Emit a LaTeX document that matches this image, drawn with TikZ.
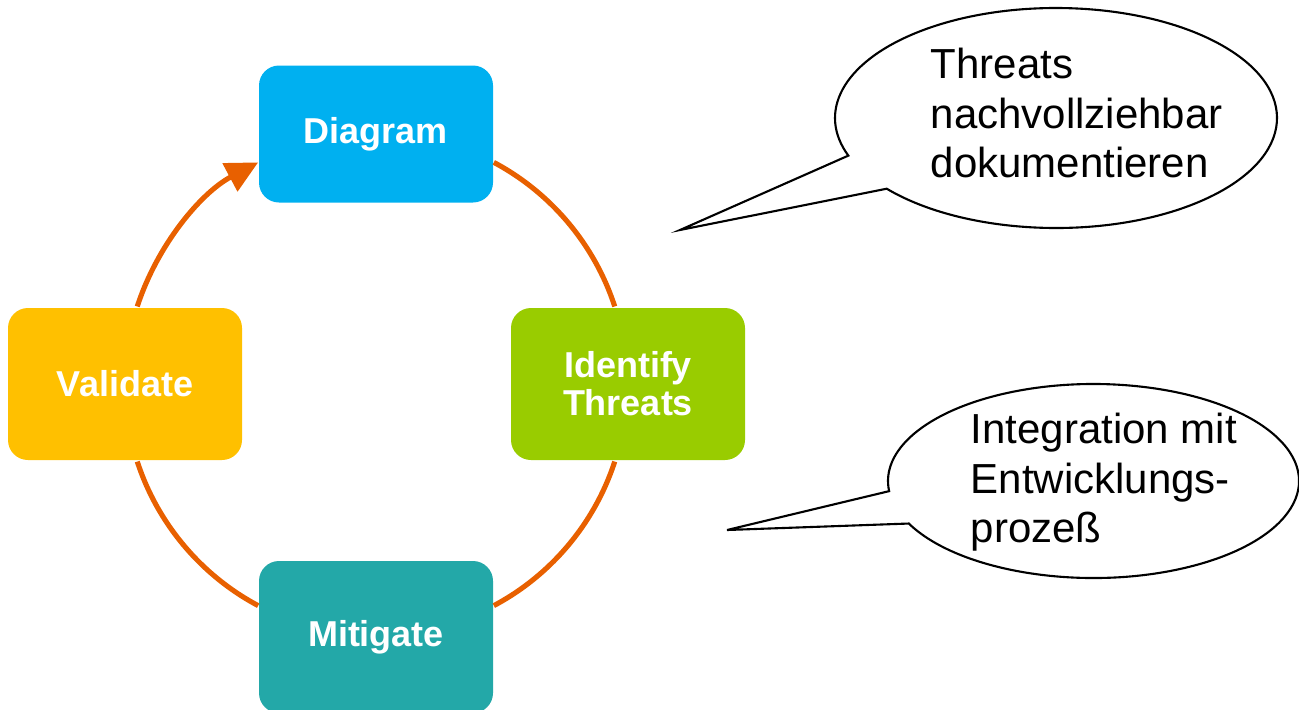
\documentclass[tikz,border=0pt]{standalone}
\usepackage{fontspec}
\setmainfont{Liberation Sans}
\usepackage{xcolor}
\definecolor{skyblue}{RGB}{0,176,240}
\definecolor{limegreen}{RGB}{153,204,0}
\definecolor{teal}{RGB}{35,168,168}
\definecolor{amber}{RGB}{255,192,0}
\definecolor{pumpkin}{RGB}{232,96,0}
\usepackage{tikz}
\usetikzlibrary{calc,arrows.meta}
\tikzset{
    stepbox/.style={rounded corners=0.2cm, minimum width=2.34cm, minimum height=1.52cm,
        inner sep=0pt, align=center, text=white,
        font=\fontsize{10.24}{10.8}\selectfont\bfseries},
    flow/.style={draw=pumpkin, line width=1.45pt, bend left=22, looseness=0.88},
    bubble/.style={draw=black, line width=0.6pt, fill=white},
    bubbletext/.style={anchor=north west, inner sep=0pt, align=left,
        font=\fontsize{11.95}{14.2}\selectfont}
}

\begin{document}
\begin{tikzpicture}
                \useasboundingbox (0,0) rectangle (12.99,7.09);
                \coordinate (ring) at (3.76,3.25);
                \foreach \ang/\nm in {62/p1, 18/p2, -18/p3, -62/p4, -118/p5, -162/p6, 162/p7, 118/p8}
                    \coordinate (\nm) at ($(ring)+(\ang:2.51)$);

                \node [stepbox, fill=skyblue, minimum height=1.37cm] (diagram) at (3.76,5.75) {Diagram};
                \node [stepbox, fill=limegreen] (identify) at (6.28,3.25) {Identify\\Threats};
                \node [stepbox, fill=teal] (mitigate) at (3.76,0.72) {Mitigate};
                \node [stepbox, fill=amber] (validate) at (1.25,3.25) {Validate};

                \draw [flow] (p1) to (p2);
                \draw [flow] (p3) to (p4);
                \draw [flow] (p5) to (p6);
                \draw [flow, -{Triangle[length=0.32cm, width=0.31cm]}] (p7) to (p8);

                \coordinate (c1) at (10.56,5.91);
                \coordinate (tip1) at (6.80,4.79);
                \draw [bubble] (tip1) -- ($(c1)+(220:2.21 and 1.10)$)
                    arc [start angle=220, end angle=560, x radius=2.21, y radius=1.10] -- cycle;
                \node [bubbletext] (note1) at (9.30,6.62) {Threats\\nachvollziehbar\\dokumentieren};

                \coordinate (c2) at (10.935,2.28);
                \coordinate (tip2) at (7.27,1.79);
                \draw [bubble] (tip2) -- ($(c2)+(206:2.055 and 0.97)$)
                    arc [start angle=206, end angle=546, x radius=2.055, y radius=0.97] -- cycle;
                \node [bubbletext] (note2) at (9.70,2.97) {Integration mit\\Entwicklungs-\\prozeß};
            \end{tikzpicture}
\end{document}
